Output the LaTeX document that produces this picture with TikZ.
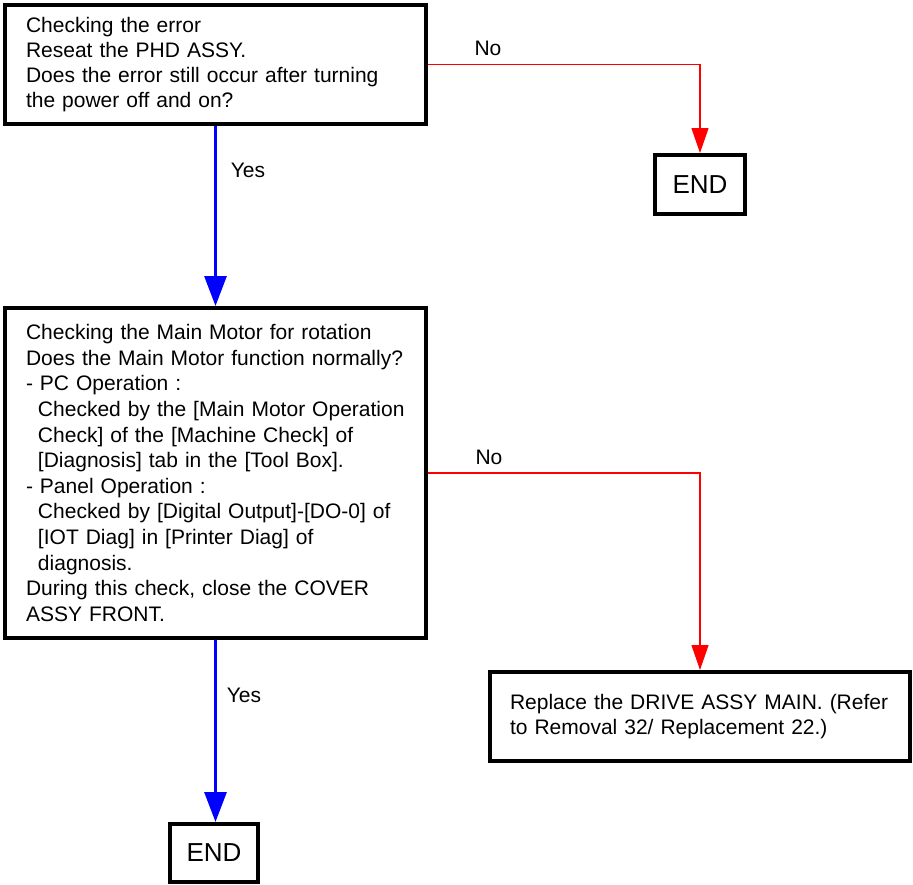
\documentclass[tikz,border=0pt]{standalone}
\usepackage{fontspec}
\setmainfont{Liberation Sans}
\usetikzlibrary{arrows.meta}

\begin{document}
\begin{tikzpicture}[x=1pt,y=-1pt,
    stepbox/.style={draw,line width=4pt,rectangle,align=left,inner xsep=21pt,inner ysep=0pt,font=\fontsize{21}{25}\selectfont},
    endbox/.style={draw,line width=4pt,rectangle,inner sep=0pt,minimum width=90pt,minimum height=59pt,font=\fontsize{26}{30}\selectfont},
    yesline/.style={blue,line width=3pt,-{Triangle[length=30pt,width=22pt]}},
    noline/.style={red,line width=1.2pt,-{Triangle[length=25pt,width=17pt]}},
    lbl/.style={font=\fontsize{21}{25}\selectfont,inner sep=0pt}]
    \pgfmathsetmacro{\stepwidth}{421}
    \pgfmathsetmacro{\steptextwidth}{379}
    \useasboundingbox (0,0) rectangle (913,884);
    % checking boxes
    \node[stepbox,text width=\steptextwidth pt,minimum width=\stepwidth pt,minimum height=119pt] (check1) at (215.5,64.5)
    {Checking the error\\
     Reseat the PHD ASSY.\\
     Does the error still occur after turning\\
     the power off and on?};
    \node[endbox] (end1) at (700,184.5) {END};
    \node[stepbox,text width=\steptextwidth pt,minimum width=\stepwidth pt,minimum height=330pt,font=\fontsize{21}{25.6}\selectfont] (check2) at (215.5,473)
    {Checking the Main Motor for rotation\\
     Does the Main Motor function normally?\\
     - PC Operation :\\
     \hspace*{12pt}Checked by the [Main Motor Operation\\
     \hspace*{12pt}Check] of the [Machine Check] of\\
     \hspace*{12pt}[Diagnosis] tab in the [Tool Box].\\
     - Panel Operation :\\
     \hspace*{12pt}Checked by [Digital Output]-[DO-0] of\\
     \hspace*{12pt}[IOT Diag] in [Printer Diag] of\\
     \hspace*{12pt}diagnosis.\\
     During this check, close the COVER\\
     ASSY FRONT.};
    \node[stepbox,text width=380pt,inner xsep=20pt,minimum width=420pt,minimum height=89pt] (replace) at (700,716.5)
    {Replace the DRIVE ASSY MAIN. (Refer\\
     to Removal 32/ Replacement 22.)};
    \node[endbox,minimum width=88pt,minimum height=58pt] (end2) at (214,853) {END};
    % connectors
    \draw[yesline] (check1.south) -- (check2.north);
    \draw[noline] (check1.east) -| (end1.north);
    \draw[yesline] (check2.south) -- (check2.south |- end2.north);
    \draw[noline] (check2.east) -| (replace.north);
    % labels
    \node[lbl] (yes1) at (248,170) {Yes};
    \node[lbl] (no1) at (488,48) {No};
    \node[lbl] (yes2) at (244,695) {Yes};
    \node[lbl] (no2) at (489,457) {No};
\end{tikzpicture}
\end{document}
